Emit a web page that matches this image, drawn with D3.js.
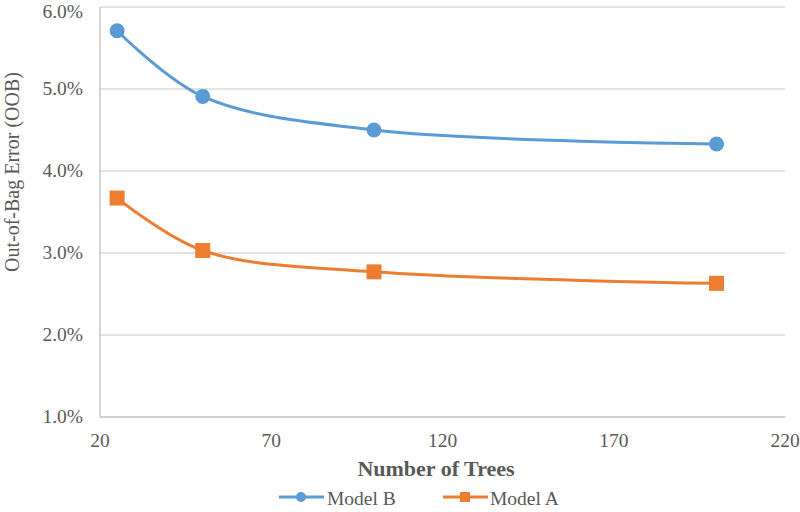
<!DOCTYPE html>
<html><head><meta charset="utf-8">
<script src="https://cdn.jsdelivr.net/npm/d3@7"></script>
<style>body{margin:0;background:#fff}svg{display:block}</style>
</head><body>
<script>
const trees = [25, 50, 100, 200];
const modelB = [5.71, 4.91, 4.50, 4.33];
const modelA = [3.67, 3.03, 2.77, 2.63];
const xTicks = [20, 70, 120, 170, 220];
const yTicks = [1, 2, 3, 4, 5, 6];

const W = 800, H = 512;
const FONT = "'Liberation Serif', 'Times New Roman', Times, serif";
const svg = d3.select("body").append("svg").attr("width", W).attr("height", H)
  .attr("font-family", FONT).attr("fill", "#595959");
const x = d3.scaleLinear().domain([20, 220]).range([100, 785]);
const y = d3.scaleLinear().domain([1, 6]).range([417, 7]);

// gridlines
svg.append("g").selectAll("line").data(yTicks.filter(d => d > 1)).join("line")
  .attr("x1", x(20)).attr("x2", x(220)).attr("y1", d => y(d)).attr("y2", d => y(d))
  .attr("stroke", "#d9d9d9").attr("stroke-width", 1.3);

// axes lines
svg.append("line").attr("x1", x(20)).attr("x2", x(20)).attr("y1", y(6)).attr("y2", y(1)).attr("stroke", "#bfbfbf").attr("stroke-width", 1.3);
svg.append("line").attr("x1", x(20)).attr("x2", x(220)).attr("y1", y(1)).attr("y2", y(1)).attr("stroke", "#bfbfbf").attr("stroke-width", 1.3);

// tick labels
svg.append("g").selectAll("text").data(yTicks).join("text")
  .attr("x", 83).attr("y", d => Math.max(y(d), 12)).attr("dy", "0.33em").attr("text-anchor", "end")
  .attr("font-family", FONT).style("font-size", "19.5px").text(d => d.toFixed(1) + "%");
svg.append("g").selectAll("text").data(xTicks).join("text")
  .attr("x", d => x(d)).attr("y", 447).attr("text-anchor", "middle")
  .attr("font-family", FONT).style("font-size", "19.5px").text(d => d);

// axis titles
svg.append("text").attr("x", 436).attr("y", 476).attr("text-anchor", "middle")
  .attr("font-family", FONT).style("font-size", "22px").style("font-weight", "bold").text("Number of Trees");
svg.append("text").attr("transform", `translate(19,172) rotate(-90)`)
  .attr("text-anchor", "middle").attr("font-family", FONT).style("font-size", "20px").text("Out-of-Bag Error (OOB)");

const line = d3.line().x(d => x(d[0])).y(d => y(d[1])).curve(d3.curveCatmullRom.alpha(0.5));
const series = [
  {name: "Model B", vals: modelB, color: "#5B9BD5", shape: "circle"},
  {name: "Model A", vals: modelA, color: "#ED7D31", shape: "square"}
];
series.forEach(s => {
  const pts = trees.map((t, i) => [t, s.vals[i]]);
  svg.append("path").attr("d", line(pts)).attr("fill", "none").attr("stroke", s.color).attr("stroke-width", 3);
  const g = svg.append("g");
  if (s.shape === "circle") {
    g.selectAll("circle").data(pts).join("circle").attr("cx", d => x(d[0])).attr("cy", d => y(d[1])).attr("r", 7.5).attr("fill", s.color);
  } else {
    g.selectAll("rect").data(pts).join("rect").attr("x", d => x(d[0]) - 7.5).attr("y", d => y(d[1]) - 7.5)
      .attr("width", 15).attr("height", 15).attr("fill", s.color);
  }
});

// legend
const lg = [{x0: 279, tx: 327}, {x0: 443, tx: 490}];
series.forEach((s, i) => {
  const L = lg[i];
  svg.append("line").attr("x1", L.x0).attr("x2", L.x0 + 45).attr("y1", 497).attr("y2", 497).attr("stroke", s.color).attr("stroke-width", 3);
  if (s.shape === "circle") svg.append("circle").attr("cx", L.x0 + 22).attr("cy", 497).attr("r", 5).attr("fill", s.color);
  else svg.append("rect").attr("x", L.x0 + 17).attr("y", 492).attr("width", 10).attr("height", 10).attr("fill", s.color);
  svg.append("text").attr("x", L.tx).attr("y", 505).attr("font-family", FONT).style("font-size", "19.5px").text(s.name);
});
</script>
</body></html>
